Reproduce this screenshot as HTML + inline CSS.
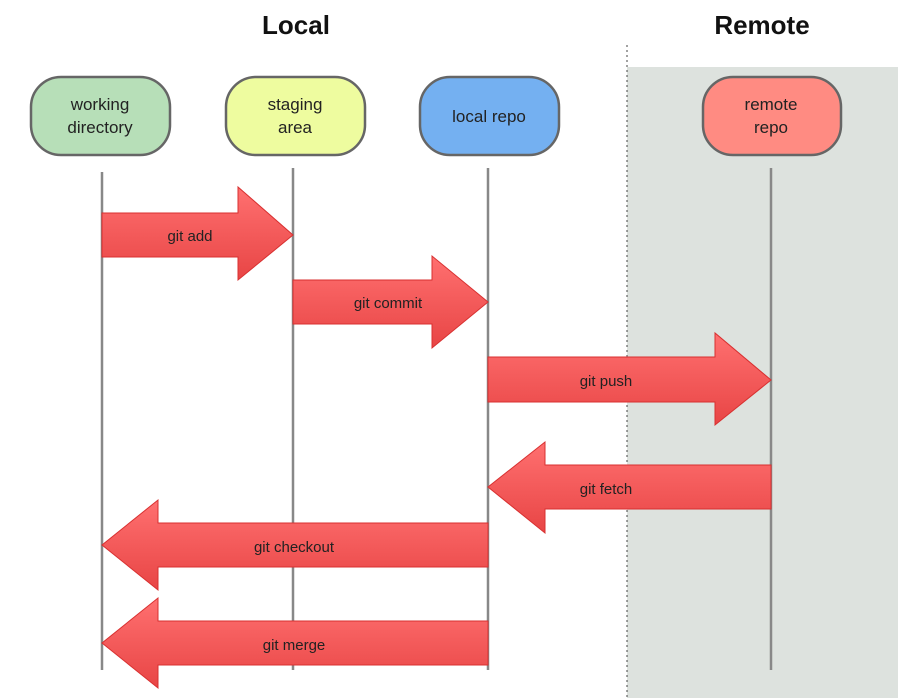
<!DOCTYPE html>
<html><head><style>
body{margin:0;background:#fff;}
svg{display:block;font-family:"Liberation Sans",sans-serif;}
</style></head><body>
<svg width="898" height="698" viewBox="0 0 898 698" xmlns="http://www.w3.org/2000/svg">
<defs>
<linearGradient id="rg" x1="0" y1="0" x2="0" y2="1">
<stop offset="0" stop-color="#ff7070"/><stop offset="1" stop-color="#e84545"/>
</linearGradient>
</defs>
<rect x="627" y="67" width="271" height="631" fill="#dde2de"/>
<line x1="627" y1="45" x2="627" y2="698" stroke="#444" stroke-width="1" stroke-dasharray="2,3"/>
<text x="296" y="34" font-size="26" font-weight="bold" text-anchor="middle" fill="#111">Local</text>
<text x="762" y="34" font-size="26" font-weight="bold" text-anchor="middle" fill="#111">Remote</text>
<g stroke="#666" stroke-width="2.5">
<rect x="31" y="77" width="139" height="78" rx="30" fill="#b7dfb8"/>
<rect x="226" y="77" width="139" height="78" rx="30" fill="#eefc9f"/>
<rect x="420" y="77" width="139" height="78" rx="30" fill="#74b0f1"/>
<rect x="703" y="77" width="138" height="78" rx="30" fill="#ff8b82"/>
</g>
<g font-size="17" text-anchor="middle" fill="#222">
<text x="100" y="110">working</text><text x="100" y="133">directory</text>
<text x="295" y="110">staging</text><text x="295" y="133">area</text>
<text x="489" y="122">local repo</text>
<text x="771" y="110">remote</text><text x="771" y="133">repo</text>
</g>
<g stroke="#888" stroke-width="2.5">
<line x1="102" y1="172" x2="102" y2="670"/>
<line x1="293" y1="168" x2="293" y2="670"/>
<line x1="488" y1="168" x2="488" y2="670"/>
<line x1="771" y1="168" x2="771" y2="670"/>
</g>
<g fill="url(#rg)" stroke="#d83030" stroke-width="1">
<polygon points="102,213 238,213 238,187 293,235 238,280 238,257 102,257"/>
<polygon points="293,280 432,280 432,256 488,302 432,348 432,324 293,324"/>
<polygon points="488,357 715,357 715,333 771,380 715,425 715,402 488,402"/>
<polygon points="771,465 545,465 545,442 488,487 545,533 545,509 771,509"/>
<polygon points="488,523 158,523 158,500 102,545 158,590 158,567 488,567"/>
<polygon points="488,621 158,621 158,598 102,643 158,688 158,665 488,665"/>
</g>
<g font-size="15" text-anchor="middle" fill="#222">
<text x="190" y="241">git add</text>
<text x="388" y="308">git commit</text>
<text x="606" y="386">git push</text>
<text x="606" y="494">git fetch</text>
<text x="294" y="552">git checkout</text>
<text x="294" y="650">git merge</text>
</g>
</svg>
</body></html>
